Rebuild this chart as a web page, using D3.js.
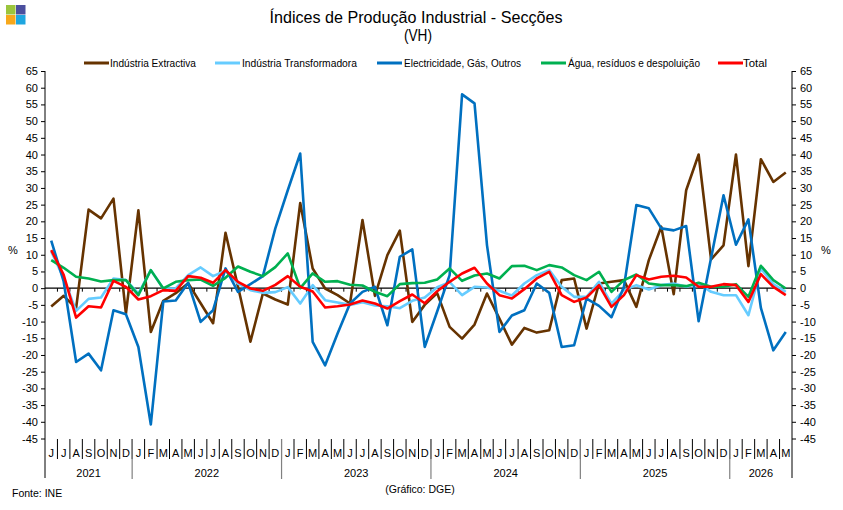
<!DOCTYPE html>
<html><head><meta charset="utf-8">
<script src="https://cdn.jsdelivr.net/npm/d3@7"></script>
<style>
body{margin:0;background:#fff}
svg{display:block}
text{font-family:"Liberation Sans",Arial,sans-serif;fill:#000}
</style>
</head><body>
<svg id="c" width="843" height="510"></svg>
<script>
// ---- data ----
const months = ["J","J","A","S","O","N","D",
  "J","F","M","A","M","J","J","A","S","O","N","D",
  "J","F","M","A","M","J","J","A","S","O","N","D",
  "J","F","M","A","M","J","J","A","S","O","N","D",
  "J","F","M","A","M","J","J","A","S","O","N","D",
  "J","F","M","A","M"];
const yearLabels = ["2021","2022","2023","2024","2025","2026"];
const yearCounts = [7,12,12,12,12,5];
const yTicks = [-45,-40,-35,-30,-25,-20,-15,-10,-5,0,5,10,15,20,25,30,35,40,45,50,55,60,65];
const seriesNames = ["Indústria Extractiva","Indústria Transformadora","Electricidade, Gás, Outros","Água, resíduos e despoluição","Total"];

const extractiva = [-5.5,-2.3,-6,23.5,20.9,26.8,-7.6,23.3,-13.1,-3.8,-1.5,1.5,-4.5,-10.5,16.6,0.5,-16,-1.6,-3.4,-4.9,
  25.5,5.9,-0.1,-2.1,-4.6,20.4,-2.3,9.9,17.2,-10.1,-5,-1.5,-11.6,-15.1,-10.9,-1.6,-9.1,-16.9,-11.9,-13.3,
  -12.6,2.4,2.9,-12.1,1.4,1.9,2.4,-5.6,8.4,18.4,-1.8,29.3,40,8.6,12.8,40,6.6,38.6,31.8,34.6];
const transformadora = [11,3,-6.8,-3.2,-2.8,2.9,2.4,-1.6,5.4,-0.1,-0.1,3.9,6.2,3.6,5.2,1.4,-0.6,-1.4,-1.2,0.3,
  -4.6,0.9,-3.6,-4.3,-5,-4.2,-5.2,-5.4,-6,-3.8,-2.8,0.3,1.8,-2.1,0.4,0.2,-0.8,-2.2,1.4,3.9,
  5.4,0.4,-2.6,-2.6,1.9,-4.6,-0.6,0.9,-0.4,0.9,1.4,0.4,1.4,-1.1,-2.1,-2.1,-8.1,5.9,1.2,-1.1];
const electricidade = [14.2,2,-22.1,-19.6,-24.6,-6.6,-7.8,-17.6,-40.8,-4,-3.7,1.6,-10.1,-6.6,5.9,-1.1,1.2,3.6,17.9,29.3,
  40.3,-16.1,-23.1,-13.6,-4.6,-1.1,0.4,-11.1,9.4,11.6,-17.6,-7,3.9,58,55.3,12.9,-13.1,-8.2,-6.6,1.4,
  -1.4,-17.6,-17.1,-3.1,-5.3,-8.7,0.4,24.9,23.9,17.9,17.3,18.6,-9.9,9,27.8,13,20.6,-5.9,-18.6,-13.1];
const agua = [8.4,6.1,3.4,2.9,2,2.4,2.4,-2.1,5.4,-0.1,1.9,2.4,2.6,0.7,3.1,6.5,4.9,3.6,6.3,10.4,
  0,4.4,1.9,2.1,1,0.8,-1.1,-2.4,1.2,1.5,1.6,2.6,5.9,2.2,3.8,4.4,2.9,6.6,6.7,5.4,
  6.9,6.2,3.9,2.4,4.9,-1.1,2.4,4.1,1.4,0.9,0.9,0.6,1.6,0.4,0.4,1.2,-2.6,6.7,2.4,-0.1];
const total = [11.4,4,-8.8,-5.4,-5.8,2.2,0.4,-3.4,-2.4,-0.6,-0.8,3.6,3.1,1.6,5.4,1.9,-0.1,-0.8,1,3.6,
  0.4,-1,-5.8,-5.4,-4.9,-3.7,-4.6,-6.1,-3.9,-1.9,-4.5,-0.9,1.9,4.4,6.1,1.4,-2.1,-3.1,-0.3,2.9,
  4.9,-2.1,-4.1,-2.8,0.9,-5.6,-2.1,3.9,2.6,3.4,3.7,3.2,0.4,0.4,1.2,0.9,-4.1,4.2,0.4,-2.1];

// ---- styles ----
const colors = ["#663300","#66CCFF","#0070C0","#00B050","#FF0000"];
const seriesData = [extractiva, transformadora, electricidade, agua, total];

const svg = d3.select("#c");
const L = 45, R = 792, T = 71, B = 438.5;
const idx = d3.range(months.length);
const x = d3.scaleBand().domain(idx).range([L, R]).paddingInner(0).paddingOuter(0);
const cx = i => x(i) + x.bandwidth()/2;
const y = d3.scaleLinear().domain([-45, 65]).range([B, T]);

// logo
const logo = svg.append("g");
[["#9BC53D",6,5],["#4B4F9E",16,5],["#F7A81B",6,15],["#1EA6E0",16,15]].forEach(d=>{
  logo.append("rect").attr("x",d[1]).attr("y",d[2]).attr("width",9.5).attr("height",9.5).attr("fill",d[0]);
});

// title
svg.append("text").attr("x",416).attr("y",23).attr("text-anchor","middle")
  .attr("font-size",16.5).attr("textLength",293).attr("lengthAdjust","spacingAndGlyphs")
  .text("Índices de Produção Industrial - Secções");
svg.append("text").attr("x",418).attr("y",41).attr("text-anchor","middle")
  .attr("font-size",16.5).attr("textLength",28).attr("lengthAdjust","spacingAndGlyphs").text("(VH)");

// legend
const legPos = [[84,110,86],[215,242,115],[377,404,117],[541,568,132],[718,743,24]];
seriesNames.forEach((n,i)=>{
  const p = legPos[i];
  svg.append("line").attr("x1",p[0]).attr("x2",p[0]+25).attr("y1",63).attr("y2",63)
    .attr("stroke",colors[i]).attr("stroke-width",3);
  svg.append("text").attr("x",p[1]).attr("y",66.5).attr("font-size",10)
    .attr("textLength",p[2]).attr("lengthAdjust","spacingAndGlyphs").text(n);
});

// y axes
const yAxisL = d3.axisLeft(y).tickValues(yTicks).tickSize(4).tickPadding(3).tickFormat(d3.format("d"));
const gl = svg.append("g").attr("transform",`translate(${L},0)`).call(yAxisL);
const yAxisR = d3.axisRight(y).tickValues(yTicks).tickSize(4).tickPadding(4).tickFormat(d3.format("d"));
const gr = svg.append("g").attr("transform",`translate(${R},0)`).call(yAxisR);
[gl,gr].forEach(g=>{
  g.select(".domain").remove();
  g.selectAll("line").attr("stroke","#000");
  g.selectAll("text").attr("font-size",11).attr("font-family","Liberation Sans, Arial, sans-serif");
});
gl.selectAll("text").text(d=> d<0 ? "-"+Math.abs(d) : d);
gr.selectAll("text").text(d=> d<0 ? "-"+Math.abs(d) : d);
svg.append("line").attr("x1",L).attr("x2",L).attr("y1",T).attr("y2",478).attr("stroke","#000");
svg.append("line").attr("x1",R).attr("x2",R).attr("y1",T).attr("y2",478).attr("stroke","#000");
svg.append("text").attr("x",8).attr("y",254).attr("font-size",11).text("%");
svg.append("text").attr("x",821).attr("y",254).attr("font-size",11).text("%");

// zero line with ticks at category boundaries
svg.append("line").attr("x1",L).attr("x2",R).attr("y1",y(0)).attr("y2",y(0)).attr("stroke","#000").attr("stroke-width",1.2);
idx.slice(1).forEach(i=>{
  svg.append("line").attr("x1",x(i)).attr("x2",x(i)).attr("y1",y(0)).attr("y2",y(0)+3.5).attr("stroke","#000");
});

// bottom category labels
const gb = svg.append("g");
idx.forEach(i=>{
  gb.append("text").attr("x",cx(i)).attr("y",457).attr("text-anchor","middle").attr("font-size",11).text(months[i]);
  if(i>0) gb.append("line").attr("x1",x(i)).attr("x2",x(i)).attr("y1",439).attr("y2",459).attr("stroke","#000");
});
let start = 0;
yearLabels.forEach((yl,k)=>{
  const n = yearCounts[k];
  const x0 = x(start), x1 = x(start+n-1)+x.bandwidth();
  gb.append("text").attr("x",(x0+x1)/2).attr("y",477).attr("text-anchor","middle").attr("font-size",11).text(yl);
  if(start>0) gb.append("line").attr("x1",x0).attr("x2",x0).attr("y1",439).attr("y2",479).attr("stroke","#808080").attr("stroke-width",1.2);
  start += n;
});

// series lines
const line = d3.line().x((d,i)=>cx(i)).y(d=>y(d));
seriesData.forEach((s,k)=>{
  svg.append("path").datum(s).attr("d",line).attr("fill","none")
    .attr("stroke",colors[k]).attr("stroke-width",2.6).attr("stroke-linejoin","round");
});

// footer
svg.append("text").attr("x",12).attr("y",497).attr("font-size",10.5).text("Fonte: INE");
svg.append("text").attr("x",420).attr("y",493).attr("text-anchor","middle").attr("font-size",10.5).text("(Gráfico: DGE)");
</script>
</body></html>
